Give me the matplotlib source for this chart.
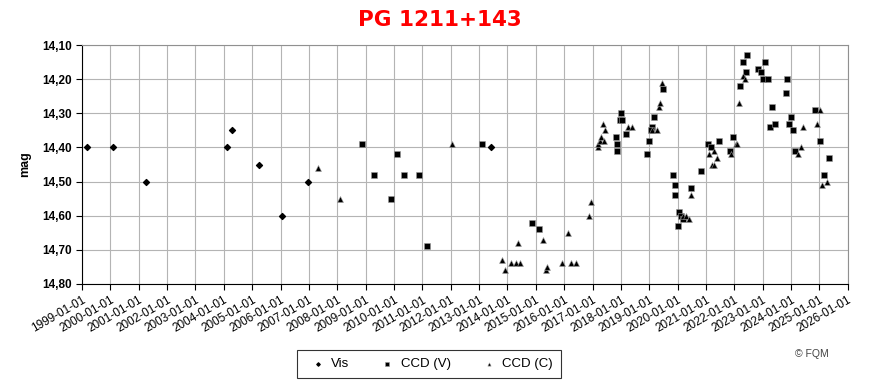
import numpy as np
import pandas as pd
import matplotlib
matplotlib.use("Agg")
import matplotlib.pyplot as plt
import matplotlib.dates as mdates
from matplotlib.ticker import FuncFormatter

plt.rcParams['font.family'] = ['Liberation Sans', 'DejaVu Sans']

# Visual estimates
vis_dates = ["1999-03-01", "2000-02-01", "2001-04-10", "2004-02-05", "2004-04-10",
             "2005-03-25", "2006-01-25", "2006-12-15", "2013-05-30"]
vis_mag = [14.40, 14.40, 14.50, 14.40, 14.35, 14.45, 14.60, 14.50, 14.40]

# CCD, V filter
ccdv_dates = ["2008-11-20", "2009-04-15", "2009-11-28", "2010-02-14", "2010-05-15",
              "2010-11-25", "2011-02-25", "2013-02-03", "2014-11-15", "2015-02-06",
              "2017-10-30", "2017-11-10", "2017-11-18", "2017-12-28", "2017-12-24",
              "2018-01-15", "2018-03-08", "2018-11-28", "2018-12-28", "2019-02-02",
              "2019-01-30", "2019-03-01", "2019-06-28", "2019-11-10", "2019-12-05",
              "2019-11-28", "2020-01-22", "2020-02-16", "2020-01-08", "2020-03-14",
              "2020-06-20", "2020-10-24", "2021-01-22", "2021-03-03", "2021-06-14",
              "2021-11-02", "2021-12-12", "2022-03-20", "2022-04-22", "2022-05-30",
              "2022-06-14", "2022-10-30", "2022-12-08", "2023-01-08", "2023-02-06",
              "2023-03-10", "2023-05-01", "2023-04-05", "2023-06-10", "2023-10-27",
              "2023-11-10", "2023-12-05", "2023-12-28", "2024-01-26", "2024-02-28",
              "2024-11-02", "2025-01-05", "2025-03-08", "2025-05-05"]
ccdv_mag = [14.39, 14.48, 14.55, 14.42, 14.48,
            14.48, 14.69, 14.39, 14.62, 14.64,
            14.37, 14.39, 14.41, 14.30, 14.32,
            14.32, 14.36, 14.42, 14.38, 14.34,
            14.35, 14.31, 14.23, 14.48, 14.51,
            14.54, 14.59, 14.60, 14.63, 14.61,
            14.52, 14.47, 14.39, 14.40, 14.38,
            14.41, 14.37, 14.22, 14.15, 14.18,
            14.13, 14.17, 14.18, 14.20, 14.15,
            14.20, 14.28, 14.34, 14.33, 14.24,
            14.20, 14.33, 14.31, 14.35, 14.41,
            14.29, 14.38, 14.48, 14.43]

# CCD, clear
ccdc_dates = ["2007-05-01", "2008-02-03", "2012-01-20", "2013-10-20", "2013-12-02",
              "2014-02-18", "2014-04-20", "2014-06-10", "2014-05-15", "2015-04-08",
              "2015-05-15", "2015-05-25", "2015-12-01", "2016-02-24", "2016-03-28",
              "2016-06-02", "2016-11-17", "2016-12-16", "2017-03-08", "2017-03-12",
              "2017-04-05", "2017-04-22", "2017-05-18", "2017-05-28", "2017-06-14",
              "2018-04-01", "2018-05-22", "2019-02-06", "2019-04-10", "2019-05-10",
              "2019-05-18", "2019-06-14", "2020-03-18", "2020-04-22", "2020-05-26",
              "2020-06-22", "2021-02-10", "2021-04-12", "2021-03-18", "2021-04-16",
              "2021-05-20", "2021-11-18", "2022-01-18", "2022-01-30", "2022-02-28",
              "2022-04-30", "2022-05-18", "2024-03-28", "2024-05-08", "2024-06-06",
              "2024-11-28", "2025-01-08", "2025-02-03", "2025-04-08"]
ccdc_mag = [14.46, 14.55, 14.39, 14.73, 14.76,
            14.74, 14.74, 14.74, 14.68, 14.67,
            14.76, 14.75, 14.74, 14.65, 14.74,
            14.74, 14.60, 14.56, 14.40, 14.39,
            14.38, 14.37, 14.33, 14.38, 14.35,
            14.34, 14.34, 14.35, 14.35, 14.28,
            14.27, 14.21, 14.60, 14.60, 14.61,
            14.54, 14.42, 14.41, 14.45, 14.45,
            14.43, 14.42, 14.39, 14.39, 14.27,
            14.19, 14.20, 14.42, 14.40, 14.34,
            14.33, 14.29, 14.51, 14.50]

x_start, x_end = "1999-01-01", "2026-01-01"
y_top, y_bottom = 14.10, 14.80

fig = plt.figure(figsize=(8.73, 3.89), dpi=100)
ax = fig.add_axes([0.094, 0.270, 0.877, 0.614])

ax.scatter(pd.to_datetime(vis_dates), vis_mag, marker='D', s=9, color='black',
           label='Vis', zorder=3)
ax.scatter(pd.to_datetime(ccdv_dates), ccdv_mag, marker='s', s=20, color='black',
           edgecolors='#999999', linewidths=0.4, label='CCD (V)', zorder=3)
ax.scatter(pd.to_datetime(ccdc_dates), ccdc_mag, marker='^', s=18, color='black',
           edgecolors='#999999', linewidths=0.4, label='CCD (C)', zorder=3)

ax.set_xlim(pd.Timestamp(x_start), pd.Timestamp(x_end))
ax.set_ylim(y_bottom, y_top)
ax.set_yticks(np.arange(14.10, 14.81, 0.10))
ax.yaxis.set_major_formatter(FuncFormatter(lambda v, p: f"{v:.2f}".replace('.', ',')))
ax.xaxis.set_major_locator(mdates.YearLocator(1))
ax.xaxis.set_major_formatter(mdates.DateFormatter('%Y-%m-%d'))

ax.grid(True, color='#b4b4b4', linewidth=0.8)
ax.set_axisbelow(True)
for s in ['top', 'right']:
    ax.spines[s].set_color('#909090')
for s in ['left', 'bottom']:
    ax.spines[s].set_color('black')
ax.tick_params(axis='both', direction='out', length=4, width=0.8)
plt.setp(ax.get_yticklabels(), fontsize=8.5, fontweight='bold')
plt.setp(ax.get_xticklabels(), fontsize=8.5, rotation=30, ha='right',
         rotation_mode='anchor')

ax.set_ylabel('mag', fontsize=9, fontweight='bold', labelpad=8)
fig.suptitle('PG 1211+143', x=0.504, y=0.975, fontsize=15.5, fontweight='bold',
             color='#ff0000', family='DejaVu Sans')

leg = fig.legend(loc='center', bbox_to_anchor=(0.491, 0.064), ncol=3, fontsize=9.5,
                 frameon=True, fancybox=False, edgecolor='black', handletextpad=0.0,
                 columnspacing=1.9, borderpad=0.6, markerscale=0.55)
leg.get_frame().set_linewidth(0.8)

fig.text(0.93, 0.082, '© FQM', fontsize=7.5, color='#444444', ha='center')

fig.savefig('out.png', dpi=100)
